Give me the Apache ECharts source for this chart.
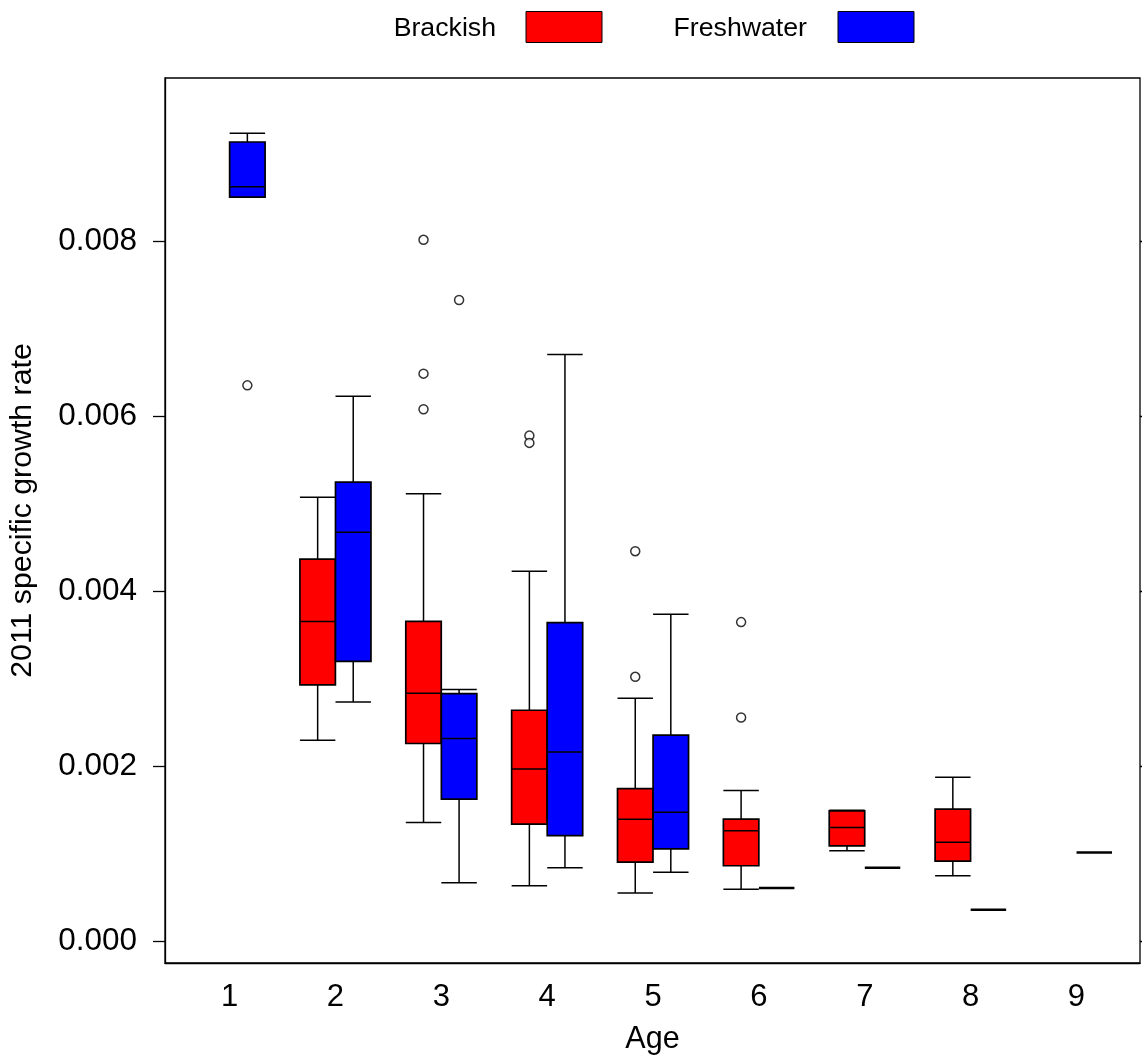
<!DOCTYPE html>
<html>
<head>
<meta charset="utf-8">
<script src="https://cdn.jsdelivr.net/npm/echarts@6/dist/echarts.min.js"></script>
<style>
html,body{margin:0;padding:0;background:#fff;}
#chart{width:1142px;height:1060px;}
</style>
</head>
<body>
<div id="chart"></div>
<script>
// ---- data ----
const ages = [1, 2, 3, 4, 5, 6, 7, 8, 9];
const groupNames = ['Brackish', 'Freshwater'];
// five-number summaries per age: [min, Q1, median, Q3, max]
const brackishStats = [
  null,
  [0.002297, 0.002928, 0.003654, 0.004365, 0.005073],
  [0.001358, 0.002259, 0.002833, 0.003654, 0.005111],
  [0.000635, 0.001338, 0.001969, 0.002639, 0.004228],
  [0.000552, 0.000904, 0.001393, 0.001743, 0.002776],
  [0.000593, 0.000863, 0.001262, 0.001395, 0.001723],
  [0.001034, 0.001091, 0.001301, 0.001490, 0.001498],
  [0.000749, 0.000916, 0.001130, 0.001509, 0.001875],
  null
];
const freshwaterStats = [
  [0.008500, 0.008500, 0.008620, 0.009130, 0.009230],
  [0.002734, 0.003198, 0.004673, 0.005244, 0.006225],
  [0.000669, 0.001623, 0.002316, 0.002829, 0.002875],
  [0.000841, 0.001206, 0.002161, 0.003641, 0.006704],
  [0.000788, 0.001056, 0.001475, 0.002354, 0.003737],
  [0.000608, 0.000608, 0.000608, 0.000608, 0.000608],
  [0.000840, 0.000840, 0.000840, 0.000840, 0.000840],
  [0.000361, 0.000361, 0.000361, 0.000361, 0.000361],
  [0.001015, 0.001015, 0.001015, 0.001015, 0.001015]
];
// outliers: [age, value]
const brackishOutliers = [
  [3, 0.008013], [3, 0.006484], [3, 0.006077],
  [4, 0.005776], [4, 0.005693],
  [5, 0.004456], [5, 0.003021],
  [6, 0.003646], [6, 0.002556]
];
const freshwaterOutliers = [
  [1, 0.006350],
  [3, 0.007325]
];
const yTicks = [0, 0.002, 0.004, 0.006, 0.008];

// ---- layout / style ----
const FONT = "'Liberation Sans', Arial, Helvetica, sans-serif";
const COLORS = ['#FF0000', '#0000FF'];
const OFFSET = 0.168;
const BOX_W = 0.335;

function boxData(stats, off) {
  const out = [];
  stats.forEach((s, i) => {
    if (s) out.push([ages[i] + off].concat(s));
  });
  return out;
}
function outlierData(list, off) {
  return list.map(d => [d[0] + off, d[1]]);
}

function makeRender(color) {
  return function (params, api) {
    const x = api.value(0);
    const vals = [1, 2, 3, 4, 5].map(i => api.value(i));
    const pts = vals.map(v => api.coord([x, v]));
    const w = api.size([BOX_W, 0])[0];
    const cx = pts[0][0];
    const L = cx - w / 2, R = cx + w / 2;
    const yMin = pts[0][1], yQ1 = pts[1][1], yMed = pts[2][1], yQ3 = pts[3][1], yMax = pts[4][1];
    const flat = Math.abs(yQ1 - yQ3) < 0.5;
    const ls = { stroke: '#000', lineWidth: 1.5 };
    const children = [];
    if (!flat) {
      children.push({ type: 'line', shape: { x1: cx, y1: yQ3, x2: cx, y2: yMax }, style: ls });
      children.push({ type: 'line', shape: { x1: L, y1: yMax, x2: R, y2: yMax }, style: ls });
      children.push({ type: 'line', shape: { x1: cx, y1: yQ1, x2: cx, y2: yMin }, style: ls });
      children.push({ type: 'line', shape: { x1: L, y1: yMin, x2: R, y2: yMin }, style: ls });
      children.push({ type: 'rect', shape: { x: L, y: yQ3, width: w, height: yQ1 - yQ3 },
        style: { fill: color, stroke: '#000', lineWidth: 1.7 } });
      children.push({ type: 'line', shape: { x1: L, y1: yMed, x2: R, y2: yMed }, style: { stroke: '#000', lineWidth: 1.5 } });
    } else {
      children.push({ type: 'line', shape: { x1: L, y1: yMed, x2: R, y2: yMed }, style: { stroke: '#000', lineWidth: 2.4 } });
    }
    return { type: 'group', children: children };
  };
}

const chart = echarts.init(document.getElementById('chart'), null, { renderer: 'canvas' });

const option = {
  backgroundColor: '#fff',
  animation: false,
  grid: {
    left: 165, right: 2, top: 78, bottom: 96,
    show: true, borderColor: '#000', borderWidth: 1.3, backgroundColor: 'transparent'
  },
  xAxis: {
    type: 'value',
    min: 0.39, max: 9.6,
    name: 'Age',
    nameLocation: 'middle',
    nameGap: 61,
    nameTextStyle: { fontSize: 30.5, color: '#000', fontFamily: FONT },
    axisLine: { show: true, onZero: false, lineStyle: { color: '#000', width: 1.3 } },
    axisTick: { show: false },
    splitLine: { show: false },
    axisLabel: {
      customValues: ages,
      formatter: v => String(Math.round(v)),
      fontSize: 31, color: '#000', fontFamily: FONT, margin: 19
    }
  },
  yAxis: [{
    type: 'value',
    min: -0.000248, max: 0.009861,
    name: '2011 specific growth rate',
    nameLocation: 'middle',
    nameGap: 127,
    nameTextStyle: { fontSize: 30.3, color: '#000', fontFamily: FONT, padding: [0, 0, 0, 20] },
    axisLine: { show: true, onZero: false, lineStyle: { color: '#000', width: 1.3 } },
    axisTick: { show: true, customValues: yTicks, length: 12, lineStyle: { color: '#000', width: 1.3 } },
    splitLine: { show: false },
    axisLabel: {
      customValues: yTicks,
      formatter: v => v.toFixed(3),
      fontSize: 31.5, color: '#000', fontFamily: FONT, margin: 28
    }
  }, {
    type: 'value',
    position: 'right',
    min: -0.000248, max: 0.009861,
    axisLine: { show: false },
    axisTick: { show: true, customValues: yTicks, length: 6, lineStyle: { color: '#000', width: 1.3 } },
    axisLabel: { show: false },
    splitLine: { show: false }
  }],
  graphic: [
    { type: 'text', x: 496, y: 29,
      style: { text: groupNames[0], fontSize: 26.7, fontFamily: FONT, fill: '#000', align: 'right', verticalAlign: 'middle' } },
    { type: 'rect', x: 526, y: 11.5, shape: { width: 76, height: 31 },
      style: { fill: COLORS[0], stroke: '#000', lineWidth: 1 } },
    { type: 'text', x: 807, y: 29,
      style: { text: groupNames[1], fontSize: 26.7, fontFamily: FONT, fill: '#000', align: 'right', verticalAlign: 'middle' } },
    { type: 'rect', x: 838, y: 11.5, shape: { width: 76, height: 31 },
      style: { fill: COLORS[1], stroke: '#000', lineWidth: 1 } }
  ],
  series: [
    {
      name: groupNames[0], type: 'custom',
      renderItem: makeRender(COLORS[0]),
      encode: { x: 0, y: [1, 2, 3, 4, 5] },
      data: boxData(brackishStats, -OFFSET),
      z: 2
    },
    {
      name: groupNames[1], type: 'custom',
      renderItem: makeRender(COLORS[1]),
      encode: { x: 0, y: [1, 2, 3, 4, 5] },
      data: boxData(freshwaterStats, OFFSET),
      z: 2
    },
    {
      name: groupNames[0] + ' outliers', type: 'scatter',
      data: outlierData(brackishOutliers, -OFFSET),
      symbol: 'circle', symbolSize: 9,
      itemStyle: { color: '#fff', borderColor: '#000', borderWidth: 1.5 },
      z: 3
    },
    {
      name: groupNames[1] + ' outliers', type: 'scatter',
      data: outlierData(freshwaterOutliers, OFFSET),
      symbol: 'circle', symbolSize: 9,
      itemStyle: { color: '#fff', borderColor: '#000', borderWidth: 1.5 },
      z: 3
    }
  ]
};
chart.setOption(option);
</script>
</body>
</html>
